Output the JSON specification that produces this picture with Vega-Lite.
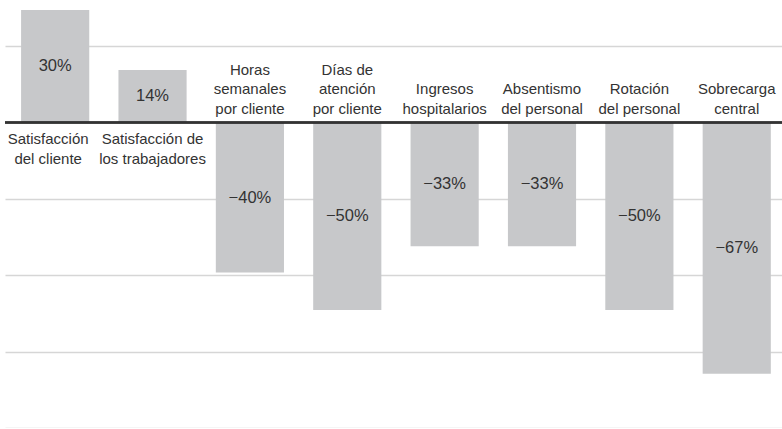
{
  "$schema": "https://vega.github.io/schema/vega-lite/v6.json",
  "width": 777,
  "height": 428,
  "autosize": {"type": "none"},
  "padding": {"left": 5, "top": 0, "right": 0, "bottom": 0},
  "background": "white",
  "config": {"view": {"stroke": null}, "font": "Liberation Sans"},
  "data": {
    "values": [
      {"category": "Satisfacción\ndel cliente", "value": 30, "label": "30%"},
      {"category": "Satisfacción de\nlos trabajadores", "value": 14, "label": "14%"},
      {"category": "Horas\nsemanales\npor cliente", "value": -40, "label": "−40%"},
      {"category": "Días de\natención\npor cliente", "value": -50, "label": "−50%"},
      {"category": "Ingresos\nhospitalarios", "value": -33, "label": "−33%"},
      {"category": "Absentismo\ndel personal", "value": -33, "label": "−33%"},
      {"category": "Rotación\ndel personal", "value": -50, "label": "−50%"},
      {"category": "Sobrecarga\ncentral", "value": -67, "label": "−67%"}
    ]
  },
  "encoding": {
    "x": {
      "field": "category",
      "type": "nominal",
      "sort": null,
      "axis": null,
      "scale": {"paddingInner": 0.3, "paddingOuter": 0.14, "align": 0.59}
    }
  },
  "layer": [
    {
      "mark": {"type": "bar", "color": "#c7c8ca"},
      "encoding": {
        "y": {
          "field": "value",
          "type": "quantitative",
          "scale": {"domain": [-81.467, 32.667], "nice": false},
          "axis": {
            "values": [20.53, -20.29, -40.67, -61.12, -81.467],
            "grid": true,
            "gridColor": "#d6d6d6",
            "gridWidth": 1.5,
            "domain": false,
            "ticks": false,
            "labels": false,
            "title": null
          }
        },
        "y2": {"datum": 0}
      }
    },
    {
      "mark": {"type": "rule", "color": "#333333", "strokeWidth": 1.6},
      "encoding": {
        "x": {"value": 0},
        "x2": {"value": 777},
        "y": {"datum": 0, "type": "quantitative", "scale": {"domain": [-81.467, 32.667], "nice": false}, "axis": null}
      }
    },
    {
      "transform": [{"filter": "datum.value == 30"}],
      "mark": {"type": "text", "baseline": "top", "align": "center", "dx": -7, "dy": 9, "fontSize": 15, "lineHeight": 20.5, "lineBreak": "\n", "color": "#333333"},
      "encoding": {
        "text": {"field": "category"},
        "y": {"datum": 0, "type": "quantitative", "scale": {"domain": [-81.467, 32.667], "nice": false}, "axis": null}
      }
    },
    {
      "transform": [{"filter": "datum.value == 14"}],
      "mark": {"type": "text", "baseline": "top", "align": "center", "dy": 9, "fontSize": 15, "lineHeight": 20.5, "lineBreak": "\n", "color": "#333333"},
      "encoding": {
        "text": {"field": "category"},
        "y": {"datum": 0, "type": "quantitative", "scale": {"domain": [-81.467, 32.667], "nice": false}, "axis": null}
      }
    },
    {
      "transform": [{"filter": "datum.value < 0 && length(split(datum.category, '\\n')) == 3"}],
      "mark": {"type": "text", "baseline": "top", "align": "center", "dy": -60, "fontSize": 15, "lineHeight": 19.5, "lineBreak": "\n", "color": "#333333"},
      "encoding": {
        "text": {"field": "category"},
        "y": {"datum": 0, "type": "quantitative", "scale": {"domain": [-81.467, 32.667], "nice": false}, "axis": null}
      }
    },
    {
      "transform": [{"filter": "datum.value < 0 && length(split(datum.category, '\\n')) == 2"}],
      "mark": {"type": "text", "baseline": "top", "align": "center", "dy": -40.5, "fontSize": 15, "lineHeight": 19.5, "lineBreak": "\n", "color": "#333333"},
      "encoding": {
        "text": {"field": "category"},
        "y": {"datum": 0, "type": "quantitative", "scale": {"domain": [-81.467, 32.667], "nice": false}, "axis": null}
      }
    },
    {
      "mark": {"type": "text", "baseline": "middle", "align": "center", "fontSize": 16.5, "color": "#333333"},
      "encoding": {
        "text": {"field": "label"},
        "y": {"field": "value", "type": "quantitative", "scale": {"domain": [-162.934, 65.334], "nice": false}, "axis": null}
      }
    }
  ],
  "resolve": {"scale": {"y": "independent"}}
}
